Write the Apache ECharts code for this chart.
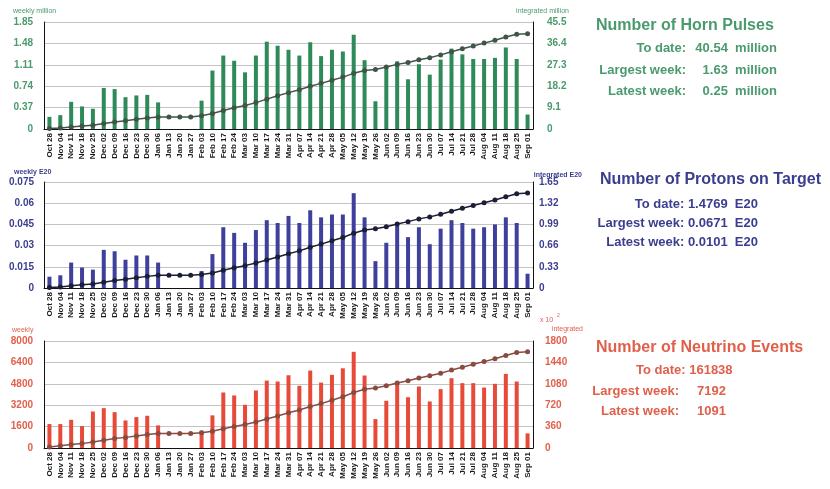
<!DOCTYPE html>
<html>
<head>
<meta charset="utf-8">
<title>Beam and Neutrino Delivery</title>
<script src="https://cdn.jsdelivr.net/npm/echarts@6/dist/echarts.min.js"></script>
<style>
  html, body { margin: 0; padding: 0; background: #ffffff; }
  #chart { width: 830px; height: 489px; }
</style>
</head>
<body>
<div id="chart"></div>
<script>
// Weekly bins (week starting)
const weeks = ['Oct 28','Nov 04','Nov 11','Nov 18','Nov 25','Dec 02','Dec 09','Dec 16','Dec 23','Dec 30',
  'Jan 06','Jan 13','Jan 20','Jan 27','Feb 03','Feb 10','Feb 17','Feb 24','Mar 03','Mar 10','Mar 17',
  'Mar 24','Mar 31','Apr 07','Apr 14','Apr 21','Apr 28','May 05','May 12','May 19','May 26','Jun 02',
  'Jun 09','Jun 16','Jun 23','Jun 30','Jul 07','Jul 14','Jul 21','Jul 28','Aug 04','Aug 11','Aug 18',
  'Aug 25','Sep 01'];

// Horn pulses, millions per week
const pulsesWeekly = [0.21,0.24,0.47,0.39,0.35,0.71,0.69,0.55,0.58,0.59,
  0.46,0,0,0,0.49,1.01,1.27,1.18,0.98,1.27,1.51,
  1.44,1.37,1.27,1.50,1.26,1.37,1.34,1.63,1.19,0.48,1.04,
  1.17,0.86,1.12,0.94,1.20,1.39,1.29,1.21,1.21,1.23,1.41,
  1.21,0.25];
// Horn pulses, integrated millions
const pulsesIntegrated = [0.21,0.44,0.90,1.28,1.63,2.32,3.00,3.54,4.11,4.69,
  5.14,5.14,5.14,5.14,5.62,6.61,7.86,9.01,9.98,11.22,12.70,
  14.12,15.46,16.70,18.18,19.41,20.76,22.07,23.67,24.84,25.31,26.33,
  27.48,28.32,29.42,30.34,31.52,32.88,34.15,35.33,36.52,37.73,39.11,
  40.30,40.54];

// Protons on target, E20 per week
const potWeekly = [0.008,0.009,0.018,0.0145,0.013,0.027,0.026,0.020,0.023,0.023,
  0.018,0,0,0,0.012,0.024,0.043,0.039,0.032,0.041,0.048,
  0.046,0.051,0.046,0.055,0.050,0.052,0.052,0.0671,0.050,0.019,0.032,
  0.044,0.036,0.043,0.031,0.042,0.048,0.046,0.042,0.043,0.045,0.050,
  0.046,0.0101];
// Protons on target, integrated E20
const potIntegrated = [0.008,0.017,0.035,0.049,0.062,0.089,0.115,0.135,0.158,0.181,
  0.198,0.198,0.198,0.198,0.210,0.234,0.277,0.316,0.348,0.388,0.436,
  0.482,0.533,0.578,0.633,0.683,0.735,0.786,0.853,0.903,0.922,0.954,
  0.997,1.033,1.076,1.107,1.149,1.196,1.242,1.284,1.327,1.371,1.421,
  1.467,1.4769];

// Neutrino events per week
const eventsWeekly = [1790,1790,2110,1640,2730,2980,2680,2060,2310,2410,
  1690,0,0,0,1290,2440,4150,3930,3230,4300,5040,
  4970,5440,4650,5790,4890,5470,5960,7192,5420,2160,3530,
  4850,3800,4600,3480,4400,5220,4850,4850,4520,4800,5540,
  4970,1091];
// Neutrino events, integrated (x 10^2)
const eventsIntegrated = [18.0,36.0,57.2,73.7,101.1,131.1,158.0,178.7,201.9,226.1,
  243.1,243.1,243.1,243.1,256.1,280.6,322.3,361.8,394.3,437.5,488.2,
  538.1,592.8,639.5,697.7,746.9,801.8,861.7,934.0,988.5,1010.2,1045.7,
  1094.4,1132.6,1178.8,1213.8,1258.0,1310.5,1359.2,1408.0,1453.4,1501.6,1557.3,
  1607.2,1618.38];

// Axis tick labels
const pulsesWeeklyTicks = [0, 0.37, 0.74, 1.11, 1.48, 1.85];
const pulsesIntegratedTicks = [0, 9.1, 18.2, 27.3, 36.4, 45.5];
const potWeeklyTicks = [0, 0.015, 0.03, 0.045, 0.06, 0.075];
const potIntegratedTicks = [0, 0.33, 0.66, 0.99, 1.32, 1.65];
const eventsWeeklyTicks = [0, 1600, 3200, 4800, 6400, 8000];
const eventsIntegratedTicks = [0, 360, 720, 1080, 1440, 1800];

const FONT = '"Liberation Sans", Arial, sans-serif';

function tickFormatter(ticks) {
  return function (v) {
    const t = ticks.find(x => Math.abs(x - v) < 1e-6 * Math.max(1, Math.abs(x)));
    return t === undefined ? '' : String(t);
  };
}

function valueAxis(gridIndex, position, ticks, color, margin) {
  return {
    type: 'value',
    gridIndex: gridIndex,
    position: position,
    min: ticks[0],
    max: ticks[ticks.length - 1],
    interval: ticks[1] - ticks[0],
    axisLine: { show: true, lineStyle: { color: '#111', width: 1 } },
    axisTick: { show: false },
    axisLabel: {
      color: color, fontSize: 10, fontWeight: 'bold', fontFamily: FONT,
      margin: margin, formatter: tickFormatter(ticks)
    },
    splitLine: position === 'left'
      ? { show: true, lineStyle: { color: '#c4c4c4', width: 1 } }
      : { show: false }
  };
}

const panels = [
  { top: 22, height: 107, weekly: pulsesWeekly, integrated: pulsesIntegrated,
    wTicks: pulsesWeeklyTicks, iTicks: pulsesIntegratedTicks,
    bar: '#2f8a5a', line: '#3f5548', text: '#4a9a6e', lm: 11, rm: 14 },
  { top: 182, height: 106, weekly: potWeekly, integrated: potIntegrated,
    wTicks: potWeeklyTicks, iTicks: potIntegratedTicks,
    bar: '#3e409c', line: '#1c1d36', text: '#3b3e8e', lm: 10, rm: 6 },
  { top: 341, height: 107, weekly: eventsWeekly, integrated: eventsIntegrated,
    wTicks: eventsWeeklyTicks, iTicks: eventsIntegratedTicks,
    bar: '#e84a3a', line: '#8a4a40', text: '#e0604c', lm: 11, rm: 12 }
];

const grid = [], xAxis = [], yAxis = [], series = [];
panels.forEach((p, i) => {
  grid.push({ left: 44, width: 489, top: p.top, height: p.height, containLabel: false });
  xAxis.push({
    type: 'category', gridIndex: i, data: weeks, boundaryGap: true,
    axisLine: { show: true, lineStyle: { color: '#111', width: 1 } },
    axisTick: { show: false },
    axisLabel: {
      interval: 0, rotate: 90, margin: 4, color: '#1a1a1a',
      fontSize: 8, fontWeight: 'bold', fontFamily: FONT
    },
    splitLine: { show: false }
  });
  yAxis.push(valueAxis(i, 'left', p.wTicks, p.text, p.lm));
  yAxis.push(valueAxis(i, 'right', p.iTicks, p.text, p.rm));
  series.push({
    type: 'bar', xAxisIndex: i, yAxisIndex: 2 * i, data: p.weekly,
    barWidth: 4, itemStyle: { color: p.bar }, z: 2, animation: false
  });
  series.push({
    type: 'line', xAxisIndex: i, yAxisIndex: 2 * i + 1, data: p.integrated,
    symbol: 'circle', symbolSize: 5, showSymbol: true,
    lineStyle: { color: p.line, width: 1.5 },
    itemStyle: { color: p.line }, z: 3, animation: false
  });
});

function txt(x, y, text, color, size, weight, align) {
  return {
    type: 'text', x: 0, y: 0, silent: true,
    style: {
      x: x, y: y, text: text, fill: color,
      font: (weight || 'normal') + ' ' + size + 'px ' + FONT,
      align: align || 'left', textAlign: align || 'left',
      verticalAlign: 'middle', textVerticalAlign: 'middle'
    }
  };
}

const green = '#4a9a6e', blue = '#3b3e8e', red = '#e0604c';
const graphics = [
  // axis names
  txt(13, 11, 'weekly million', green, 7),
  txt(569, 11, 'integrated million', green, 7, 'normal', 'right'),
  txt(14, 172, 'weekly E20', blue, 7, 'bold'),
  txt(582, 175, 'integrated E20', blue, 7, 'bold', 'right'),
  txt(12, 330, 'weekly', red, 7),
  txt(540, 320, 'x 10', red, 7),
  txt(557, 316, '2', red, 5),
  txt(583, 329, 'integrated', red, 7, 'normal', 'right'),

  // horn pulse summary
  txt(596, 26, 'Number of Horn Pulses', green, 16, 'bold'),
  txt(686, 48, 'To date:', green, 13, 'bold', 'right'),
  txt(777, 48, '40.54  million', green, 13, 'bold', 'right'),
  txt(686, 70, 'Largest week:', green, 13, 'bold', 'right'),
  txt(777, 70, '1.63  million', green, 13, 'bold', 'right'),
  txt(686, 91, 'Latest week:', green, 13, 'bold', 'right'),
  txt(777, 91, '0.25  million', green, 13, 'bold', 'right'),

  // protons on target summary
  txt(600, 180, 'Number of Protons on Target', blue, 16, 'bold'),
  txt(758, 204, 'To date: 1.4769  E20', blue, 13, 'bold', 'right'),
  txt(758, 223, 'Largest week: 0.0671  E20', blue, 13, 'bold', 'right'),
  txt(758, 242, 'Latest week: 0.0101  E20', blue, 13, 'bold', 'right'),

  // neutrino event summary
  txt(596, 348, 'Number of Neutrino Events', red, 16, 'bold'),
  txt(636, 370, 'To date: 161838', red, 13, 'bold'),
  txt(679, 391, 'Largest week:', red, 13, 'bold', 'right'),
  txt(726, 391, '7192', red, 13, 'bold', 'right'),
  txt(679, 411, 'Latest week:', red, 13, 'bold', 'right'),
  txt(726, 411, '1091', red, 13, 'bold', 'right')
];

const chart = echarts.init(document.getElementById('chart'), null, { renderer: 'canvas' });
chart.setOption({
  backgroundColor: '#ffffff',
  animation: false,
  grid: grid,
  xAxis: xAxis,
  yAxis: yAxis,
  series: series,
  graphic: graphics
});
</script>
</body>
</html>
